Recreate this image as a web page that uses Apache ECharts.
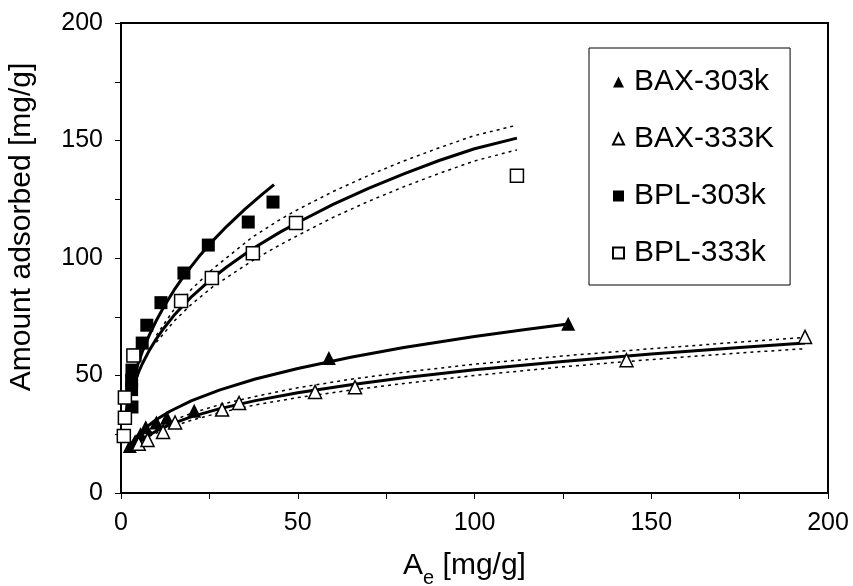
<!DOCTYPE html>
<html>
<head>
<meta charset="utf-8">
<script src="https://cdn.jsdelivr.net/npm/echarts@6/dist/echarts.min.js"></script>
<style>
html,body{margin:0;padding:0;background:#fff;}
#chart{width:853px;height:586px;}
</style>
</head>
<body>
<div id="chart"></div>
<script>
// ---- data ----
const xTicks = [0, 50, 100, 150, 200];
const yTicks = [0, 50, 100, 150, 200];

const bax303 = [[2.5,20],[4,22],[5.5,25],[7,28],[10,30],[13,32],[20.7,35],[58.8,57.5],[126.5,72]];
const bax333 = [[5,21],[7.5,22.6],[11.9,26],[15.3,30],[28.6,35.5],[33.4,38.3],[54.9,43],[66.2,45],[143,56.5],[193.5,66.4]];
const bpl303 = [[3.1,36.6],[3.0,44],[3.0,48],[3.1,52.3],[4,58.7],[6,63.8],[7.3,71.4],[11.3,81],[17.8,93.6],[24.7,105.5],[36,115.3],[43,123.8]];
const bpl333 = [[0.8,24.3],[1.1,32],[1.1,40.6],[3.5,58.5],[17,81.7],[25.7,91.5],[37.3,102],[49.5,114.9],[112,135]];

// fitted curves
const fitBax303 = [[3,21.1],[4,23.2],[5,24.9],[7,27.8],[10,31.3],[14,34.9],[20,39.3],[28,43.9],[38,48.5],[50,53],[65,57.8],[80,61.9],[100,66.6],[115,69.7],[126.5,71.9]];
const fitBax333 = [[3,18.5],[4,20.1],[5,21.5],[7,23.8],[10,26.4],[14,29.2],[20,32.5],[28,35.9],[38,39.3],[50,42.7],[65,46.1],[80,49],[100,52.4],[125,56],[150,59.1],[175,61.9],[193.5,63.8]];
const fitBpl303 = [[1,29.6],[1.5,34.7],[2,38.9],[3,45.6],[4,51.1],[5,55.8],[6,60],[8,67.2],[10,73.4],[12,78.9],[15,86.3],[18,92.8],[22,100.5],[26,107.4],[30,113.6],[35,120.7],[40,127.2],[43.3,131.2]];
const fitBpl333 = [[1,29.3],[1.5,33.8],[2,37.3],[3,43],[4,47.6],[5,51.5],[6,54.9],[8,60.7],[10,65.6],[12,69.9],[15,75.6],[20,83.6],[26,91.6],[30,96.3],[37,103.7],[45,111],[50,115.1],[60,122.8],[70,129.6],[80,135.8],[90,141.5],[100,146.5],[112,151]];

// confidence bands (dotted)
const bax333Up = [[8,25.5],[10,27.3],[14,30.4],[20,34],[28,37.6],[38,41.1],[50,44.8],[65,48.4],[80,51.4],[100,54.8],[125,58.3],[150,61.4],[175,64.2],[193.5,66.2]];
const bax333Lo = [[8,24.1],[10,25.5],[14,28],[20,31],[28,34.2],[38,37.5],[50,40.6],[65,43.8],[80,46.6],[100,50],[125,53.7],[150,56.8],[175,59.6],[193.5,61.4]];
const bpl333Up = [[10,67.1],[15,78.1],[20,86.8],[26,95.4],[37,108.7],[45,116.4],[50,120.6],[60,128.3],[70,135.1],[80,141.3],[90,146.9],[100,152.1],[112,156.5]];
const bpl333Lo = [[10,64.1],[15,73.1],[20,80.4],[26,87.8],[37,98.7],[45,105.6],[50,109.6],[60,117.3],[70,124.1],[80,130.3],[90,136],[100,141.3],[112,146]];

const names = ['BAX-303k','BAX-333K','BPL-303k','BPL-333k'];

// ---- chart ----
const FONT = 'Arial, "Liberation Sans", sans-serif';
const chart = echarts.init(document.getElementById('chart'), null, {renderer:'canvas'});

function fitLine(data){
  return {type:'line', data:data, showSymbol:false, symbol:'none', smooth:false,
    lineStyle:{color:'#000', width:3}, silent:true, z:3};
}
function bandLine(data){
  return {type:'line', data:data, showSymbol:false, symbol:'none', smooth:false,
    lineStyle:{color:'#000', width:1.5, type:[3,4]}, silent:true, z:2};
}
function scat(name, data, symbol, filled, size){
  return {type:'scatter', name:name, data:data, symbol:symbol, symbolSize:size,
    itemStyle: filled ? {color:'#000', borderColor:'#000', borderWidth:0, opacity:1}
                      : {color:'#fff', borderColor:'#000', borderWidth:1.5, opacity:1}, z:4};
}

const axisCommon = {
  type:'value', min:0, max:200, interval:50,
  axisLine:{show:true, lineStyle:{color:'#000', width:2}},
  axisTick:{show:true, inside:false, length:6, lineStyle:{color:'#000', width:1}},
  minorTick:{show:true, splitNumber:2, length:6, lineStyle:{color:'#000', width:1}},
  splitLine:{show:false},
  axisLabel:{color:'#000', fontSize:25, fontFamily:FONT}
};

chart.setOption({
  backgroundColor:'#fff',
  animation:false,
  grid:{left:121, right:25, top:23, bottom:93, containLabel:false, outerBoundsMode:'none',
        show:true, borderColor:'#000', borderWidth:2, backgroundColor:'transparent'},
  xAxis: Object.assign({}, axisCommon, {
    axisLabel:Object.assign({}, axisCommon.axisLabel, {margin:18, customValues: xTicks}),
    name:'{a|A}{s|e}{a| [mg/g]}',
    nameLocation:'middle', nameGap:58,
    nameTextStyle:{padding:[0,20,0,0], rich:{
      a:{fontSize:30, fontFamily:FONT, color:'#000', verticalAlign:'bottom', padding:[0,0,7,0]},
      s:{fontSize:20, fontFamily:FONT, color:'#000', verticalAlign:'bottom'}
    }}
  }),
  yAxis: Object.assign({}, axisCommon, {
    axisLabel:Object.assign({}, axisCommon.axisLabel, {margin:18, customValues: yTicks}),
    name:'Amount adsorbed [mg/g]',
    nameLocation:'middle', nameGap:84, nameRotate:90,
    nameTextStyle:{fontSize:30, fontFamily:FONT, color:'#000', padding:[0,0,0,62]}
  }),
  legend:{
    data:names, orient:'vertical', left:589, top:48,
    padding:[17,16,15,23], itemGap:23, itemWidth:11, itemHeight:11,
    borderColor:'#000', borderWidth:1, backgroundColor:'#fff',
    textStyle:{fontSize:30, fontFamily:FONT, color:'#000', lineHeight:34, padding:[0,0,0,5]},
    selectedMode:false
  },
  series:[
    bandLine(bax333Up), bandLine(bax333Lo), bandLine(bpl333Up), bandLine(bpl333Lo),
    fitLine(fitBax303), fitLine(fitBax333), fitLine(fitBpl303), fitLine(fitBpl333),
    scat(names[0], bax303, 'triangle', true, 14),
    scat(names[1], bax333, 'triangle', false, 13),
    scat(names[2], bpl303, 'rect', true, 13),
    scat(names[3], bpl333, 'rect', false, 13)
  ]
});
</script>
</body>
</html>
